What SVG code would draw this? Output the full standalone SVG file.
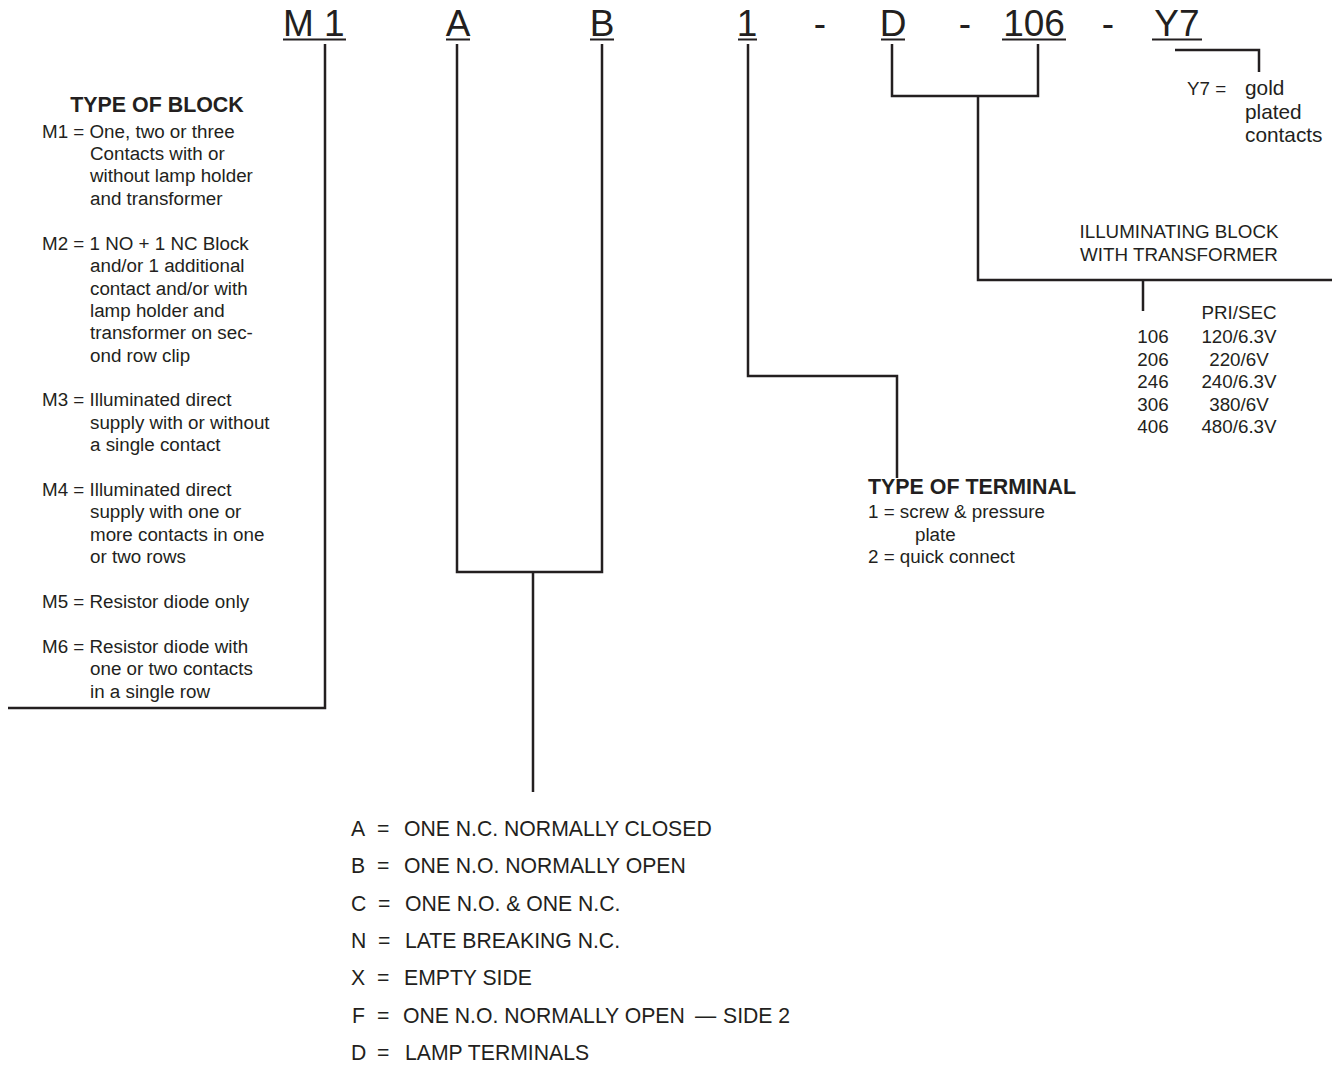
<svg xmlns="http://www.w3.org/2000/svg" width="1332" height="1068" viewBox="0 0 1332 1068">
<style>
text{font-family:"Liberation Sans",Arial,sans-serif;fill:#231f20}
.h{font-size:37px}
.t{font-size:18.8px}
.b{font-size:21.4px;font-weight:bold}
.l{font-size:21.2px}
.g{font-size:20.8px}
.c{text-anchor:middle}
.ln{fill:none;stroke:#231f20;stroke-width:2.5}
.ul{fill:none;stroke:#231f20;stroke-width:2}
</style>
<rect width="1332" height="1068" fill="#fff"/>
<g id="code">
<text class="h" x="283" y="36">M 1</text>
<text class="h c" x="458" y="36">A</text>
<text class="h c" x="602" y="36">B</text>
<text class="h c" x="747" y="36">1</text>
<text class="h c" x="820" y="36">-</text>
<text class="h c" x="893" y="36">D</text>
<text class="h c" x="965" y="36">-</text>
<text class="h c" x="1034" y="36">106</text>
<text class="h c" x="1108" y="36">-</text>
<text class="h c" x="1177" y="36">Y7</text>
<path class="ul" d="M283,39.5H346M446,39.5H470M590,39.5H614M738,39.5H757M881,39.5H905M1002,39.5H1066M1152,39.5H1202"/>
</g>
<g id="connectors">
<path class="ln" d="M325,44V708H8"/>
<path class="ln" d="M457,44V572H602V44M533,572V792"/>
<path class="ln" d="M748,44V376H897V478"/>
<path class="ln" d="M892,44V96H1038V44M978,96V280H1332M1143,280V311"/>
<path class="ln" d="M1175,50H1259V72"/>
</g>
<g id="type-of-block">
<text class="b c" x="157" y="112">TYPE OF BLOCK</text>
<text class="t" x="42" y="138">M1 = One, two or three</text>
<text class="t" x="90" y="160">Contacts with or</text>
<text class="t" x="90" y="182">without lamp holder</text>
<text class="t" x="90" y="205">and transformer</text>
<text class="t" x="42" y="250">M2 = 1 NO + 1 NC Block</text>
<text class="t" x="90" y="272">and/or 1 additional</text>
<text class="t" x="90" y="295">contact and/or with</text>
<text class="t" x="90" y="317">lamp holder and</text>
<text class="t" x="90" y="339">transformer on sec-</text>
<text class="t" x="90" y="362">ond row clip</text>
<text class="t" x="42" y="406">M3 = Illuminated direct</text>
<text class="t" x="90" y="429">supply with or without</text>
<text class="t" x="90" y="451">a single contact</text>
<text class="t" x="42" y="496">M4 = Illuminated direct</text>
<text class="t" x="90" y="518">supply with one or</text>
<text class="t" x="90" y="541">more contacts in one</text>
<text class="t" x="90" y="563">or two rows</text>
<text class="t" x="42" y="608">M5 = Resistor diode only</text>
<text class="t" x="42" y="653">M6 = Resistor diode with</text>
<text class="t" x="90" y="675">one or two contacts</text>
<text class="t" x="90" y="698">in a single row</text>
</g>
<g id="contacts">
<text class="l" x="351" y="836">A</text><text class="l" x="377" y="836">=</text><text class="l" x="404" y="836">ONE N.C. NORMALLY CLOSED</text>
<text class="l" x="351" y="873">B</text><text class="l" x="377" y="873">=</text><text class="l" x="404" y="873">ONE N.O. NORMALLY OPEN</text>
<text class="l" x="351" y="911">C</text><text class="l" x="378" y="911">=</text><text class="l" x="405" y="911">ONE N.O. &amp; ONE N.C.</text>
<text class="l" x="351" y="948">N</text><text class="l" x="378" y="948">=</text><text class="l" x="405" y="948">LATE BREAKING N.C.</text>
<text class="l" x="351" y="985">X</text><text class="l" x="377" y="985">=</text><text class="l" x="404" y="985">EMPTY SIDE</text>
<text class="l" x="352" y="1023">F</text><text class="l" x="377" y="1023">=</text><text class="l" x="403" y="1023">ONE N.O. NORMALLY OPEN <tspan x="695">—</tspan> <tspan x="723">SIDE 2</tspan></text>
<text class="l" x="351" y="1060">D</text><text class="l" x="377" y="1060">=</text><text class="l" x="405" y="1060">LAMP TERMINALS</text>
</g>
<g id="terminal">
<text class="b" x="868" y="494">TYPE OF TERMINAL</text>
<text class="t" x="868" y="518">1 = screw &amp; pressure</text>
<text class="t" x="915" y="541">plate</text>
<text class="t" x="868" y="563">2 = quick connect</text>
</g>
<g id="illuminating">
<text class="t c" x="1179" y="238">ILLUMINATING BLOCK</text>
<text class="t c" x="1179" y="261">WITH TRANSFORMER</text>
<text class="t c" x="1239" y="319">PRI/SEC</text>
<text class="t c" x="1153" y="343">106</text><text class="t c" x="1239" y="343">120/6.3V</text>
<text class="t c" x="1153" y="365.5">206</text><text class="t c" x="1239" y="365.5">220/6V</text>
<text class="t c" x="1153" y="388">246</text><text class="t c" x="1239" y="388">240/6.3V</text>
<text class="t c" x="1153" y="410.5">306</text><text class="t c" x="1239" y="410.5">380/6V</text>
<text class="t c" x="1153" y="433">406</text><text class="t c" x="1239" y="433">480/6.3V</text>
</g>
<g id="gold">
<text class="t" x="1187" y="95">Y7 =</text>
<text class="g" x="1245" y="95">gold</text>
<text class="g" x="1245" y="118.5">plated</text>
<text class="g" x="1245" y="142">contacts</text>
</g>
</svg>
